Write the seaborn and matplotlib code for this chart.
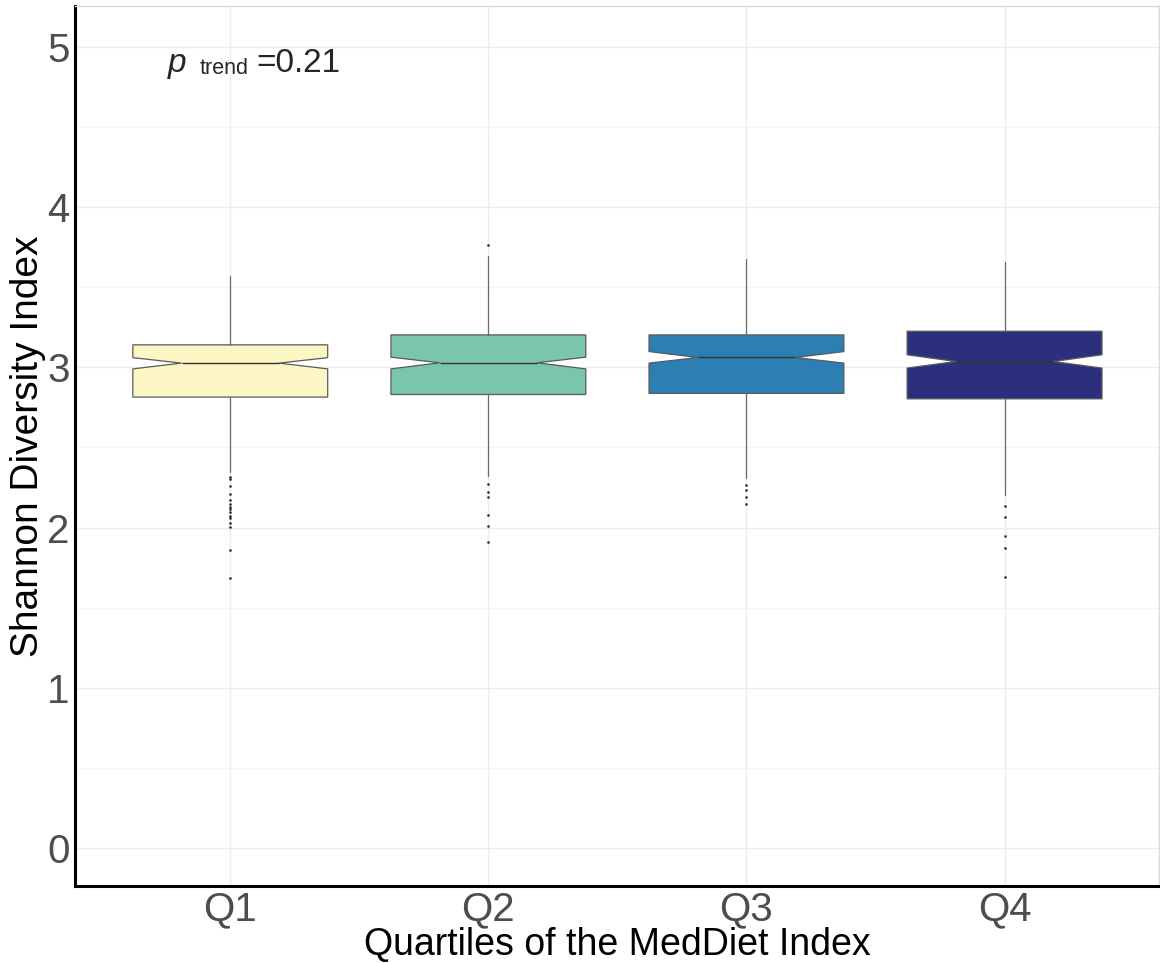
import matplotlib
matplotlib.use("Agg")
import matplotlib.pyplot as plt
from matplotlib.ticker import MultipleLocator
import seaborn as sns

# Quartile groups and their Shannon diversity summaries
quartiles = ["Q1", "Q2", "Q3", "Q4"]
medians = [3.026, 3.028, 3.061, 3.036]
q1_vals = [2.814, 2.830, 2.837, 2.803]
q3_vals = [3.140, 3.202, 3.202, 3.225]
notch_lo = [2.990, 2.990, 3.026, 2.995]
notch_hi = [3.060, 3.063, 3.098, 3.078]
whisker_lo = [2.346, 2.321, 2.311, 2.201]
whisker_hi = [3.572, 3.697, 3.676, 3.660]
outliers_q1 = [2.315, 2.303, 2.259, 2.207, 2.174, 2.149, 2.128, 2.115,
               2.097, 2.074, 2.062, 2.028, 2.003, 1.862, 1.688]
outliers_q2 = [3.764, 2.269, 2.219, 2.190, 2.078, 2.008, 1.910]
outliers_q3 = [2.263, 2.232, 2.190, 2.149]
outliers_q4 = [2.136, 2.066, 1.949, 1.872, 1.692]
box_colors = ["#FCF5C4", "#7BC5AB", "#2B7FB2", "#2C2F7C"]
p_trend = "0.21"

sns.set_theme(style="whitegrid")
plt.rcParams["font.family"] = ["Liberation Sans", "DejaVu Sans"]
plt.rcParams["mathtext.fontset"] = "custom"
plt.rcParams["mathtext.rm"] = "Liberation Sans"
plt.rcParams["mathtext.it"] = "Liberation Sans:italic"

fig, ax = plt.subplots(figsize=(11.6, 9.63), dpi=100)
fig.subplots_adjust(left=0.065, right=0.9995, bottom=0.08, top=0.994)

fliers = [outliers_q1, outliers_q2, outliers_q3, outliers_q4]
stats = []
for i, name in enumerate(quartiles):
    stats.append(dict(label=name, med=medians[i], q1=q1_vals[i], q3=q3_vals[i],
                      cilo=notch_lo[i], cihi=notch_hi[i],
                      whislo=whisker_lo[i], whishi=whisker_hi[i],
                      fliers=fliers[i]))

parts = ax.bxp(stats, positions=range(len(quartiles)), widths=0.755,
               shownotches=True, patch_artist=True, showcaps=False,
               boxprops=dict(edgecolor="#5a5a5a", linewidth=0.9),
               medianprops=dict(color="#333333", linewidth=1.0),
               whiskerprops=dict(color="#6a6a6a", linewidth=0.9),
               flierprops=dict(marker="o", markersize=1.5,
                               markeredgewidth=0.3,
                               markerfacecolor="#222222",
                               markeredgecolor="#222222"))
for patch, c in zip(parts["boxes"], box_colors):
    patch.set_facecolor(c)
    patch.set_zorder(3)
for key in ("medians", "whiskers", "fliers"):
    for art in parts[key]:
        art.set_zorder(3)

ax.set_xlim(-0.6, 3.6)
ax.set_ylim(-0.237, 5.256)
ax.set_xticks(range(len(quartiles)))
ax.set_xticklabels(quartiles)
ax.yaxis.set_major_locator(MultipleLocator(1))
ax.yaxis.set_minor_locator(MultipleLocator(0.5))

ax.grid(which="major", color="#ebebeb", linewidth=1.0)
ax.grid(which="minor", axis="y", color="#f4f4f4", linewidth=0.8)
ax.set_axisbelow(True)
ax.set_facecolor("white")

for side in ("top", "right"):
    ax.spines[side].set_color("#d9d9d9")
    ax.spines[side].set_linewidth(1.0)
for side in ("left", "bottom"):
    ax.spines[side].set_color("black")
    ax.spines[side].set_linewidth(2.2)

ax.tick_params(axis="both", which="both", length=0, labelsize=29,
               labelcolor="#4d4d4d", pad=4)
ax.tick_params(axis="x", pad=3)
ax.set_xlabel("Quartiles of the MedDiet Index", fontsize=27, color="black",
              labelpad=-1)
ax.set_ylabel("Shannon Diversity Index", fontsize=28, color="black",
              labelpad=1)

# p-value for trend across quartiles
ax.text(-0.244, 4.84, r"$\mathit{p}$", fontsize=24, ha="left",
        va="baseline")
ax.text(-0.120, 4.83, "trend", fontsize=15.5, ha="left", va="baseline")
ax.text(0.101, 4.84, "=" + p_trend, fontsize=24, ha="left", va="baseline")

fig.savefig("out.png", dpi=100, facecolor="white")
